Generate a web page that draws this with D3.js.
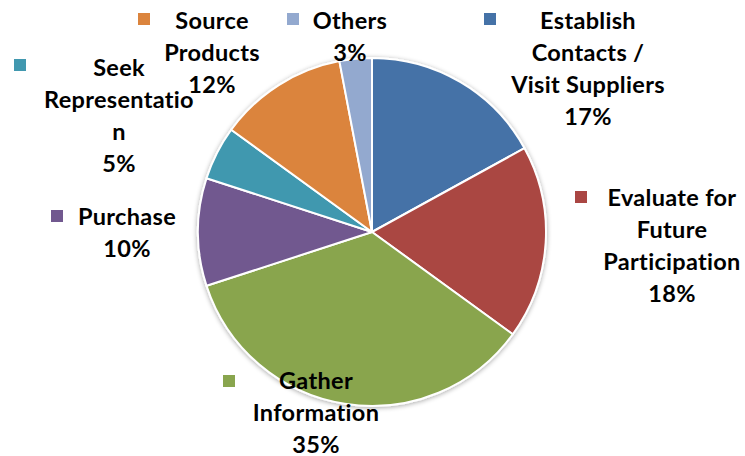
<!DOCTYPE html>
<html>
<head>
<meta charset="utf-8">
<script src="https://cdn.jsdelivr.net/npm/d3@7"></script>
<style>
  html, body { margin: 0; padding: 0; background: #fff; }
  svg { display: block; }
  text { font-family: Lato, "Open Sans", sans-serif; font-weight: 700; fill: #000; }
</style>
</head>
<body>
<svg id="chart" width="745" height="456"></svg>
<script>
// ---- data ----
const categories = ["Establish Contacts / Visit Suppliers", "Evaluate for Future Participation",
  "Gather Information", "Purchase", "Seek Representation", "Source Products", "Others"];
const values = [17, 18, 35, 10, 5, 12, 3];
const colors = ["#4572A7", "#AA4643", "#89A54E", "#71588F", "#4198AF", "#DB843D", "#93A9CF"];
// label text lines as wrapped in the chart (percent added from values)
const labelLines = [
  ["Establish", "Contacts /", "Visit Suppliers"],
  ["Evaluate for", "Future", "Participation"],
  ["Gather", "Information"],
  ["Purchase"],
  ["Seek", "Representatio", "n"],
  ["Source", "Products"],
  ["Others"]
];

// ---- layout (positions only) ----
const cx = 372, cy = 232, radius = 174;
const lineH = 32;
// label block: center x, first baseline y, marker x, marker y
const labelLayout = [
  {x: 588, y: 29, mx: 484, my: 13},
  {x: 672, y: 206, mx: 575, my: 191},
  {x: 316, y: 389, mx: 223, my: 375},
  {x: 127, y: 225, mx: 51, my: 210},
  {x: 119, y: 76, mx: 14, my: 59},
  {x: 212, y: 29, mx: 138, my: 13},
  {x: 350, y: 29, mx: 287, my: 13}
];

const svg = d3.select("#chart");
const defs = svg.append("defs");
const f = defs.append("filter").attr("id", "shadow").attr("x", "-20%").attr("y", "-20%").attr("width", "140%").attr("height", "140%");
f.append("feGaussianBlur").attr("in", "SourceAlpha").attr("stdDeviation", 2.5).attr("result", "b");
f.append("feOffset").attr("in", "b").attr("dx", 0).attr("dy", 1).attr("result", "o");
f.append("feComponentTransfer").attr("in", "o").attr("result", "o2")
  .append("feFuncA").attr("type", "linear").attr("slope", 0.35);
const m = f.append("feMerge");
m.append("feMergeNode").attr("in", "o2");
m.append("feMergeNode").attr("in", "SourceGraphic");

const color = d3.scaleOrdinal().domain(categories).range(colors);
const pie = d3.pie().sort(null).value(d => d.value);
const arc = d3.arc().innerRadius(0).outerRadius(radius);

const data = categories.map((c, i) => ({name: c, value: values[i], lines: labelLines[i], layout: labelLayout[i]}));

const g = svg.append("g").attr("transform", `translate(${cx},${cy})`);
const pieG = g.append("g").attr("filter", "url(#shadow)");
pieG.selectAll("path")
  .data(pie(data))
  .join("path")
  .attr("d", arc)
  .attr("fill", d => color(d.data.name))
  .attr("stroke", "#fff")
  .attr("stroke-width", 2)
  .attr("stroke-linejoin", "round");

const total = d3.sum(values);
const fmt = v => Math.round(v / total * 100) + "%";

const labels = svg.append("g").selectAll("g.lbl").data(data).join("g").attr("class", "lbl");
labels.append("rect")
  .attr("x", d => d.layout.mx)
  .attr("y", d => d.layout.my)
  .attr("width", 12).attr("height", 12)
  .attr("fill", d => color(d.name));
labels.append("text")
  .attr("text-anchor", "middle")
  .attr("font-size", 23.5)
  .attr("letter-spacing", 0.3)
  .each(function(d) {
    const t = d3.select(this);
    const all = d.lines.concat([fmt(d.value)]);
    all.forEach((ln, i) => {
      t.append("tspan").attr("x", d.layout.x).attr("y", d.layout.y + i * lineH).text(ln);
    });
  });
</script>
</body>
</html>
